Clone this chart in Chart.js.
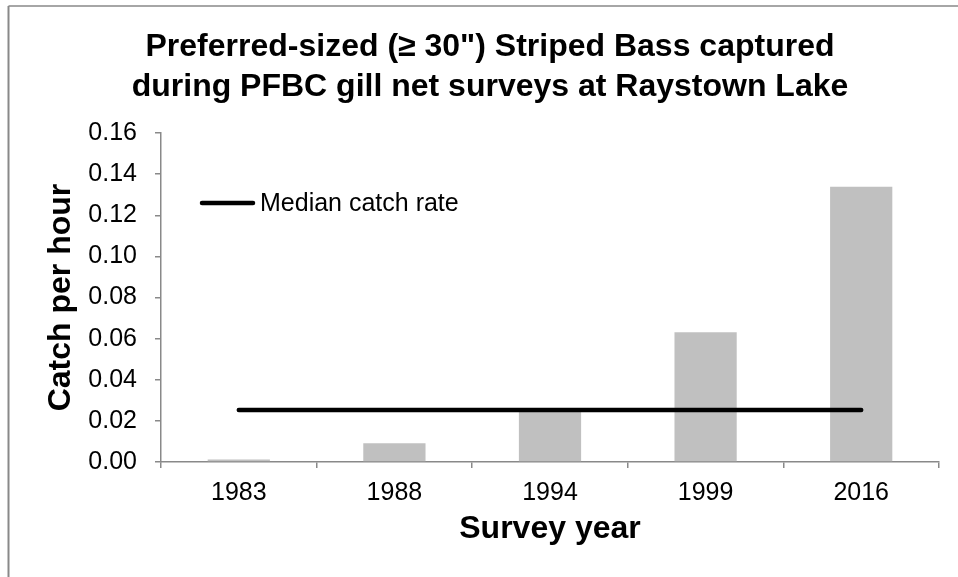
<!DOCTYPE html>
<html>
<head>
<meta charset="utf-8">
<script src="https://cdn.jsdelivr.net/npm/chart.js@4"></script>
<style>
  html, body { margin: 0; padding: 0; background: #fff; }
  canvas { display: block; }
</style>
</head>
<body>
<canvas id="c" width="958" height="577"></canvas>
<script>
// Survey years and preferred-size (>= 30") catch rates
const surveyYears = ['1983', '1988', '1994', '1999', '2016'];
const catchPerHour = [0.0012, 0.0091, 0.0253, 0.0631, 0.1339];
// Median catch rate across all surveys, drawn as a flat reference line
const medianCatchRate = [0.0253, 0.0253, 0.0253, 0.0253, 0.0253];
// Y axis range and tick spacing
const yAxisMin = 0;
const yAxisMax = 0.16;
const yAxisStep = 0.02;

const titleLines = [
  'Preferred-sized (\u2265 30") Striped Bass captured',
  'during PFBC gill net surveys at Raystown Lake'
];

const FONT = "'Liberation Sans', Arial, Helvetica, sans-serif";
const AXIS_GREY = '#898989';

// Thin frame around the whole figure
const framePlugin = {
  id: 'frame',
  beforeDraw(chart) {
    const ctx = chart.ctx;
    ctx.save();
    ctx.strokeStyle = AXIS_GREY;
    ctx.lineWidth = 2;
    ctx.beginPath();
    ctx.moveTo(8.5, chart.height);
    ctx.lineTo(8.5, 6);
    ctx.stroke();
    ctx.lineWidth = 1.5;
    ctx.beginPath();
    ctx.moveTo(8.5, 6);
    ctx.lineTo(chart.width, 6);
    ctx.stroke();
    ctx.restore();
  }
};

// Legend entry for the median line, placed inside the plot area
const insideLegendPlugin = {
  id: 'insideLegend',
  afterDraw(chart) {
    const ds = chart.data.datasets.find(d => d.type === 'line');
    if (!ds) return;
    const ctx = chart.ctx;
    const area = chart.chartArea;
    const x0 = area.left + 39;
    const y = area.top + 70;
    ctx.save();
    ctx.strokeStyle = ds.borderColor;
    ctx.lineWidth = ds.borderWidth;
    ctx.lineCap = 'round';
    ctx.beginPath();
    ctx.moveTo(x0 + 2, y);
    ctx.lineTo(x0 + 53, y);
    ctx.stroke();
    ctx.fillStyle = '#000';
    ctx.font = `25px ${FONT}`;
    ctx.textBaseline = 'middle';
    ctx.textAlign = 'left';
    ctx.fillText(ds.label, x0 + 60, y + 1);
    ctx.restore();
  }
};

new Chart(document.getElementById('c'), {
  type: 'bar',
  data: {
    labels: surveyYears,
    datasets: [
      {
        type: 'line',
        label: 'Median catch rate',
        data: medianCatchRate,
        borderColor: '#000',
        backgroundColor: '#000',
        borderWidth: 4.5,
        borderCapStyle: 'round',
        pointRadius: 0,
        pointHoverRadius: 0,
        fill: false,
        order: 0
      },
      {
        type: 'bar',
        label: 'Catch per hour',
        data: catchPerHour,
        backgroundColor: '#c0c0c0',
        borderWidth: 0,
        categoryPercentage: 0.4,
        barPercentage: 1.0,
        order: 1
      }
    ]
  },
  options: {
    responsive: false,
    animation: false,
    devicePixelRatio: 1,
    layout: { padding: { top: 0, right: 19, bottom: 0, left: 41 } },
    plugins: {
      legend: { display: false },
      tooltip: { enabled: false },
      title: {
        display: true,
        text: titleLines,
        color: '#000',
        font: { family: FONT, size: 32, weight: 'bold', lineHeight: '40px' },
        padding: { top: 27, bottom: 26 }
      }
    },
    scales: {
      x: {
        type: 'category',
        offset: true,
        grid: {
          offset: true,
          drawOnChartArea: false,
          drawTicks: true,
          tickLength: 6,
          color: AXIS_GREY,
          lineWidth: 1.5
        },
        border: { display: true, color: AXIS_GREY, width: 1.5 },
        ticks: {
          color: '#000',
          font: { family: FONT, size: 25 },
          padding: 10,
          maxRotation: 0
        },
        title: {
          display: true,
          text: 'Survey year',
          color: '#000',
          font: { family: FONT, size: 32, weight: 'bold' },
          padding: { top: 0, bottom: 29 }
        },
        afterFit(scale) { scale.height = 115; }
      },
      y: {
        min: yAxisMin,
        max: yAxisMax,
        grid: {
          drawOnChartArea: false,
          drawTicks: true,
          tickLength: 6,
          color: AXIS_GREY,
          lineWidth: 1.5
        },
        border: { display: true, color: AXIS_GREY, width: 1.5 },
        ticks: {
          stepSize: yAxisStep,
          color: '#000',
          font: { family: FONT, size: 25 },
          padding: 18,
          callback: v => Number(v).toFixed(2)
        },
        title: {
          display: true,
          text: 'Catch per hour',
          color: '#000',
          font: { family: FONT, size: 32, weight: 'bold' },
          padding: { top: 1, bottom: 0 }
        },
        afterFit(scale) { scale.width = 120; }
      }
    }
  },
  plugins: [framePlugin, insideLegendPlugin]
});
</script>
</body>
</html>
